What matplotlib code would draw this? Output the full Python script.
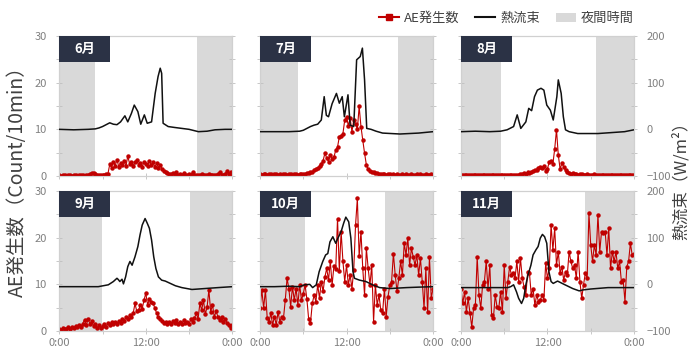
import numpy as np
import matplotlib
matplotlib.use("Agg")
import matplotlib.pyplot as plt
from matplotlib.lines import Line2D
from matplotlib.patches import Patch, Rectangle

plt.rcParams['font.family'] = ['Noto Sans CJK JP', 'DejaVu Sans']

RED = '#c00000'
NIGHT = '#d9d9d9'
GRAY = '#808080'

months = ['6月', '7月', '8月', '9月', '10月', '11月']

# 夜間時間 (日の出 / 日の入り, 時)
sunrise = [5.0, 5.2, 5.5, 5.9, 6.3, 6.8]
sunset = [19.1, 19.1, 18.7, 18.2, 17.4, 17.2]

# AE発生数 (Count/10min), 0:00-24:00, 15分ごと
ae_jun = [0.2, 0.1, 0.2, 0.2, 0.1, 0.2, 0.2, 0.1, 0.2, 0.2, 0.1, 0.2, 0.2, 0.2, 0.1, 0.2,
          0.3, 0.5, 0.7, 0.6, 0.4, 0.3, 0.2, 0.3, 0.2, 0.3, 0.4, 0.5,
          2.5, 1.8, 3.0, 2.2, 3.5, 2.0, 2.8, 2.4, 3.2, 2.1, 4.3, 2.6, 3.0, 2.2, 2.9, 3.4,
          2.3, 2.8, 2.0, 3.1, 2.6, 2.2, 3.3, 2.4, 2.9, 2.0, 2.7, 1.8, 2.4, 1.5, 1.0,
          0.8, 0.6, 0.5, 0.4, 0.6, 0.3, 0.9, 0.3, 0.4, 0.2, 0.6, 0.3, 0.2, 0.4, 0.2, 0.9,
          0.3, 0.2, 0.3, 0.2, 0.4, 0.2, 0.3, 0.2, 0.5, 0.3, 0.2, 0.3, 0.2, 0.4, 0.9, 0.3,
          0.2, 0.5, 1.0, 0.4, 0.8, 0.2]
ae_jul = [0.4, 0.3, 0.5, 0.4, 0.3, 0.5, 0.4, 0.3, 0.4, 0.5, 0.3, 0.4, 0.3, 0.4, 0.5, 0.3,
          0.4, 0.4, 0.3, 0.5, 0.4, 0.3, 0.4, 0.5, 0.5,
          0.5, 0.6, 0.7, 0.9, 0.8, 1.2, 1.5, 1.8, 2.1, 2.6, 3.3, 4.9, 3.8, 3.1, 4.5, 3.6,
          4.0, 5.6, 6.2, 8.4, 8.6, 9.1, 12.0, 12.6, 10.8, 12.4, 9.5, 12.0, 11.2, 10.0,
          14.9, 10.6, 7.7, 4.9, 2.4, 1.4, 1.1, 0.9, 0.8, 0.6,
          0.6, 0.5, 0.4, 0.5, 0.4, 0.3, 0.4, 0.5, 0.3, 0.4, 0.3, 0.4, 0.3, 0.3, 0.4, 0.3,
          0.4, 0.3, 0.3, 0.4, 0.3, 0.3, 0.4, 0.3, 0.4, 0.3, 0.3, 0.4, 0.3, 0.3, 0.4, 0.3]
ae_aug = [0.2, 0.2, 0.3, 0.2, 0.2, 0.2, 0.3, 0.2, 0.2, 0.2, 0.2, 0.3, 0.2, 0.2, 0.2, 0.2,
          0.3, 0.2, 0.2, 0.2, 0.2, 0.2, 0.3, 0.2, 0.2, 0.2, 0.3, 0.2, 0.2, 0.3, 0.2, 0.3,
          0.3, 0.4, 0.4, 0.6, 0.5, 0.8, 0.6, 0.9, 1.0, 1.3, 1.2, 1.8, 2.0, 1.7, 2.2, 1.0,
          1.6, 3.0, 3.2, 2.6, 5.8, 9.9, 4.5, 1.5, 2.7, 2.0, 1.2, 0.9, 0.7, 0.5, 0.6, 0.4,
          0.5, 0.3, 0.4,
          0.4, 0.3, 0.3, 0.4, 0.3, 0.2, 0.3, 0.4, 0.3, 0.2, 0.3, 0.2, 0.3, 0.2, 0.2, 0.3,
          0.2, 0.2, 0.3, 0.2, 0.2, 0.2, 0.3, 0.2, 0.2, 0.2, 0.3, 0.2, 0.2, 0.2]
ae_sep = [0.4, 0.3, 0.6, 0.4, 0.5, 0.8, 0.5, 0.9, 0.7, 1.1, 0.8, 1.3, 0.9, 1.6, 2.4, 1.2,
          2.6, 1.5, 2.1, 1.0, 1.4, 0.7, 1.2, 0.6, 1.0, 1.5, 0.8, 1.8, 1.2, 2.0, 1.4, 1.9,
          1.5, 2.2, 1.7, 2.6, 2.2, 2.9, 2.5, 3.4, 3.0, 3.8, 5.9, 4.2, 4.5, 5.6, 4.8, 6.6,
          8.1, 5.6, 6.8, 6.3, 6.0, 4.9, 3.8, 3.1, 2.6, 2.2, 1.8, 2.0, 1.5, 1.9, 1.6, 2.1,
          1.7, 2.3, 1.6, 2.0, 1.5, 2.4, 1.8, 2.0, 1.6, 2.5, 2.0, 2.8, 3.8, 2.6, 5.9, 4.5,
          6.6, 3.6, 5.1, 8.8, 4.1, 5.6, 3.0, 4.2, 3.1, 2.4, 3.0, 2.0, 2.6, 1.8, 1.3, 0.6,
          1.2]
ae_oct = [5.0, 8.8, 4.9, 8.8, 2.7, 2.0, 3.8, 1.3, 3.1, 1.3, 4.1, 2.0, 3.1, 2.7, 6.6, 11.3,
          9.1, 5.2, 9.5, 6.6, 9.1, 5.6, 9.9, 6.6, 8.0,
          9.9, 6.8, 2.5, 1.8, 5.9, 7.7, 6.3, 9.9, 7.0, 10.6, 8.5, 11.6, 13.4, 10.9, 14.9,
          9.9, 13.9, 13.2, 24.1, 12.8, 21.3, 14.9, 10.6, 14.1, 9.9, 12.0, 9.1, 13.1, 22.7,
          28.4, 16.0, 21.3, 13.4, 7.7, 17.7, 13.4, 9.9, 14.1, 2.0, 9.9, 5.6, 7.7, 4.5, 3.8,
          9.1, 3.1, 7.3, 9.9, 10.6, 16.6, 12.0, 8.5, 11.3, 14.9, 12.0, 18.8, 16.3, 19.9,
          14.1, 17.7, 15.9, 14.1, 16.3, 12.0, 15.6, 10.6, 4.9, 13.4, 4.1, 15.9, 7.0, 9.1]
ae_nov = [9.1, 5.9, 8.4, 4.1, 7.0, 3.8, 0.9, 4.9, 5.6, 15.9, 7.7, 4.9, 9.9, 10.6, 14.9, 9.1,
          14.1, 3.4, 2.7, 7.7, 5.2, 4.9, 8.4, 4.1, 14.1, 7.0, 10.6, 13.8, 12.0, 12.4, 11.3,
          14.9, 10.6, 15.6, 11.3, 9.5, 7.7, 12.7, 12.4, 7.7, 9.1, 5.6, 7.7, 6.3, 6.6, 7.7,
          6.6, 14.5, 11.3, 13.4, 22.7, 17.4, 22.0, 14.1, 17.0, 12.4, 13.8, 10.9, 12.7, 12.0,
          17.0, 14.9, 13.4, 14.1, 11.3, 17.0, 10.6, 7.0, 9.9, 12.4, 11.3, 25.2, 18.4, 14.9,
          18.4, 16.3, 24.9, 17.0, 21.3, 20.9, 21.3, 16.3, 22.0, 13.4, 17.0, 14.9, 17.0, 13.4,
          14.9, 10.6, 10.9, 6.3, 13.8, 14.9, 18.8, 16.3, 16.6]

# 熱流束 (W/m2): 時刻 / 値
hf_jun_t = [0, 2, 4, 5, 5.5, 6, 6.5, 7, 7.5, 8, 8.5, 9.1, 9.5, 10, 10.4, 10.9, 11.3, 11.8,
            12.2, 12.8, 13.3, 13.7, 14.0, 14.2, 14.4, 15.1, 16, 17, 18, 19.3, 20.5, 21.6,
            23, 24]
hf_jun_v = [0, -1, 0, 1, 3, 6, 10, 14, 11, 10, 16, 29, 16, 34, 52, 38, 11, 31,
            13, 16, 77, 113, 131, 120, 13, 6, 4, 2, 0, -5, -4, -1, 0, 0]
hf_jul_t = [0, 2, 4, 5.5, 6, 6.5, 7, 7.5, 8, 8.5, 8.9, 9.2, 9.5, 10.0, 10.6, 11.0, 11.4,
            11.7, 12.2, 12.5, 13.0, 13.4, 13.9, 14.2, 14.5, 14.8, 15.4, 16.1, 17, 19.4,
            22, 24]
hf_jul_v = [-5, -5, -5, -4, -2, 2, 6, 9, 11, 20, 70, 30, 27, 55, 77, 56, 70,
            27, 74, 9, 6, 149, 156, 174, 106, 2, 0, -4, -8, -10, -8, -5]
hf_aug_t = [0, 2, 4, 5.5, 6.4, 7.3, 7.8, 8.3, 9.0, 9.4, 9.8, 10.2, 10.6, 11.1, 11.5, 11.9,
            12.4, 12.8, 13.3, 13.5, 13.9, 14.2, 14.5, 15.0, 16.2, 19, 22.7, 24]
hf_aug_v = [-5, -4, -5, -4, -1, 6, 31, 2, 16, 45, 40, 70, 84, 88, 84, 52,
            41, 20, 70, 106, 77, 27, -1, -5, -9, -9, -5, -1]
hf_sep_t = [0, 2, 4, 5.4, 6.8, 7.5, 8.0, 8.2, 8.4, 8.7, 8.9, 9.2, 9.5, 9.8, 10.1, 10.5,
            10.9, 11.2, 11.5, 11.9, 12.2, 12.5, 12.8, 13.1, 13.4, 13.75, 14.2, 14.7, 15.4,
            16.1, 17, 18.4, 20.2, 22, 24]
hf_sep_v = [-5, -5, -5, -5, -1, 6, 13, 10, 6, 11, 1, 16, 38, 49, 41, 59,
            81, 106, 127, 141, 131, 120, 95, 59, 34, 16, 9, 7, 2,
            -3, -7, -11, -9, -7, -5]
hf_oct_t = [0, 2, 4, 5.5, 6.2, 6.9, 7.3, 7.8, 8.2, 8.7, 9.1, 9.4, 9.7, 10.1, 10.5, 10.8,
            11.25, 11.6, 11.9, 12.3, 12.6, 12.9, 13.1, 13.8, 14.7, 15.6, 16.6, 18, 20.3,
            22, 24]
hf_oct_v = [-5, -5, -4, -5, -1, 0, -7, -1, 27, 49, 63, 66, 91, 102, 88, 99,
            113, 131, 144, 134, 99, 27, 13, 9, 6, -1, -7, -9, -7, -6, -5]
hf_nov_t = [0, 3, 6.5, 6.9, 7.3, 7.7, 8.0, 8.4, 8.7, 9.0, 9.3, 9.7, 10.0, 10.4, 10.7,
            11.0, 11.3, 11.6, 11.9, 12.2, 12.5, 12.8, 13.4, 14.3, 15.5, 16.4, 16.9, 18,
            20.4, 24]
hf_nov_v = [-7, -7, -7, -5, -1, -16, -30, -41, -30, -1, 20, 41, 63, 74, 81,
            99, 107, 102, 88, 27, 6, 2, 7, 0, -9, -14, -12, -10, -7, -7]

ae_all = [ae_jun, ae_jul, ae_aug, ae_sep, ae_oct, ae_nov]
hf_all = [(hf_jun_t, hf_jun_v), (hf_jul_t, hf_jul_v), (hf_aug_t, hf_aug_v),
          (hf_sep_t, hf_sep_v), (hf_oct_t, hf_oct_v), (hf_nov_t, hf_nov_v)]

fig = plt.figure(figsize=(6.91, 3.53), dpi=100)

lefts = [0.0858, 0.3763, 0.6671]
bottoms = [0.5014, 0.0623]
w, h = 0.2504, 0.3966

for i, m in enumerate(months):
    r, c = divmod(i, 3)
    ax = fig.add_axes([lefts[c], bottoms[r], w, h])
    ax.axvspan(0, sunrise[i], color=NIGHT, lw=0, zorder=0)
    ax.axvspan(sunset[i], 24, color=NIGHT, lw=0, zorder=0)

    ae = ae_all[i]
    t = np.linspace(0, 24, len(ae))
    ax.plot(t, ae, color=RED, lw=0.8, marker='o', ms=2.2, mec=RED, mfc=RED, zorder=3)
    ax.set_xlim(0, 24)
    ax.set_ylim(0, 30)
    ax.set_yticks([0, 10, 20, 30])
    ax.set_yticks([5, 15, 25], minor=True)
    ax.set_xticks([0, 12, 24])
    ax.set_xticks([6, 18], minor=True)
    ax.set_xticklabels(['0:00', '12:00', '0:00'])

    ax2 = ax.twinx()
    ht, hv = hf_all[i]
    ax2.plot(ht, hv, color='#111111', lw=1.1, zorder=4)
    ax2.set_ylim(-100, 200)
    ax2.set_yticks([-100, 0, 100, 200])
    ax2.set_yticks([-50, 50, 150], minor=True)

    for a in (ax, ax2):
        for s in a.spines.values():
            s.set_color('#d0d0d0')
            s.set_linewidth(0.8)
        a.tick_params(which='both', direction='inout', length=4, width=0.6,
                      color='#bfbfbf', labelcolor=GRAY, labelsize=8)
    ax.tick_params(axis='y', pad=7)
    ax2.tick_params(axis='y', pad=7)
    ax.tick_params(axis='x', pad=3)

    if c != 0:
        ax.tick_params(axis='y', labelleft=False)
    if c != 2:
        ax2.tick_params(axis='y', labelright=False)
    if r == 0:
        ax.tick_params(axis='x', labelbottom=False)

    # 月ラベル
    bw, bh = 0.295, 0.186
    ax2.add_patch(Rectangle((0, 1 - bh), bw, bh, transform=ax.transAxes,
                            facecolor='#2b3245', edgecolor='none', zorder=6, clip_on=False))
    ax2.text(bw / 2, 1 - bh / 2, m, transform=ax.transAxes, ha='center', va='center',
             color='white', fontsize=9.5, fontweight='bold', zorder=7)

fig.text(0.025, 0.5, 'AE発生数（Count/10min）', rotation=90, ha='center', va='center',
         fontsize=14, color='#404040')
fig.text(0.985, 0.5, '熱流束（W/m²）', rotation=90, ha='center', va='center',
         fontsize=12, color='#404040')

handles = [Line2D([], [], color=RED, lw=1.5, marker='s', ms=4),
           Line2D([], [], color='#111111', lw=1.5),
           Patch(facecolor=NIGHT, edgecolor='none')]
fig.legend(handles, ['AE発生数', '熱流束', '夜間時間'], loc='upper right',
           bbox_to_anchor=(0.935, 1.0), ncol=3, frameon=False, fontsize=9.5,
           handlelength=1.5, handletextpad=0.4, columnspacing=1.2, labelcolor='#404040')

fig.savefig('out.png', dpi=100)
